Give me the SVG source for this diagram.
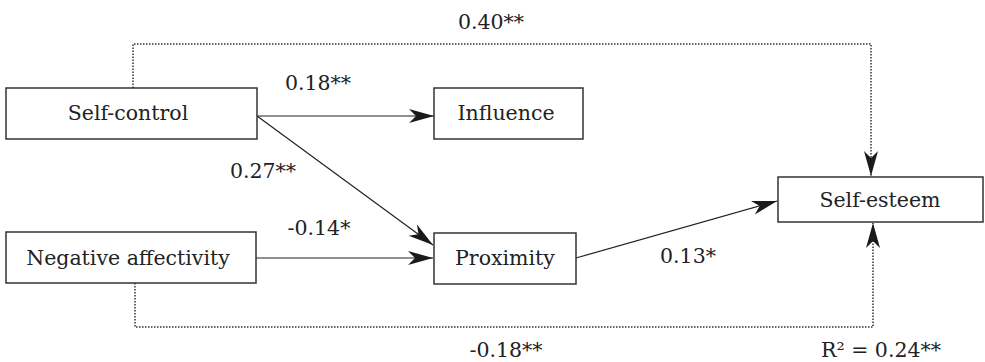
<svg xmlns="http://www.w3.org/2000/svg" width="985" height="362" viewBox="0 0 985 362">
<style>
.box{fill:#fff;stroke:#333;stroke-width:1.5}
.t{font-family:"DejaVu Serif","Liberation Serif",serif;font-size:20.5px;fill:#222;text-anchor:middle}
.l{fill:none;stroke:#222;stroke-width:1.2}
.d{fill:none;stroke:#333;stroke-width:1.5;stroke-dasharray:1.5 1.5}
</style>
<defs>
<marker id="ah" markerUnits="userSpaceOnUse" markerWidth="28" markerHeight="16" viewBox="-26 -8 28 16" refX="0" refY="0" orient="auto">
<path d="M0,0 L-25,-7 L-18,0 L-25,7 Z" fill="#1a1a1a"/>
</marker>
</defs>
<g id="connectors">
<line class="l" x1="257" y1="116" x2="434" y2="116" marker-end="url(#ah)"/>
<line class="l" x1="257" y1="116" x2="433" y2="245" marker-end="url(#ah)"/>
<line class="l" x1="256" y1="258" x2="433" y2="258" marker-end="url(#ah)"/>
<line class="l" x1="576" y1="258" x2="777" y2="201" marker-end="url(#ah)"/>
<polyline class="d" points="133,88 133,44 871,44 871,176" marker-end="url(#ah)"/>
<polyline class="d" points="135,283 135,327 873,327 873,223" marker-end="url(#ah)"/>
<text class="t" x="491" y="29">0.40**</text>
<text class="t" x="318" y="90">0.18**</text>
<text class="t" x="263" y="178">0.27**</text>
<text class="t" x="319" y="235">-0.14*</text>
<text class="t" x="688" y="263">0.13*</text>
<text class="t" x="506" y="357">-0.18**</text>
<text class="t" x="881" y="357">R² = 0.24**</text>
</g>
<g id="self-control"><rect class="box" x="6" y="88" width="251" height="51"/><text class="t" x="128" y="120">Self-control</text></g>
<g id="influence"><rect class="box" x="434" y="88" width="149" height="51"/><text class="t" x="506" y="120">Influence</text></g>
<g id="negative-affectivity"><rect class="box" x="6" y="232" width="250" height="51"/><text class="t" x="128" y="265">Negative affectivity</text></g>
<g id="proximity"><rect class="box" x="434" y="233" width="142" height="51"/><text class="t" x="505" y="265">Proximity</text></g>
<g id="self-esteem"><rect class="box" x="778" y="177" width="205" height="45"/><text class="t" x="880" y="207">Self-esteem</text></g>
</svg>
